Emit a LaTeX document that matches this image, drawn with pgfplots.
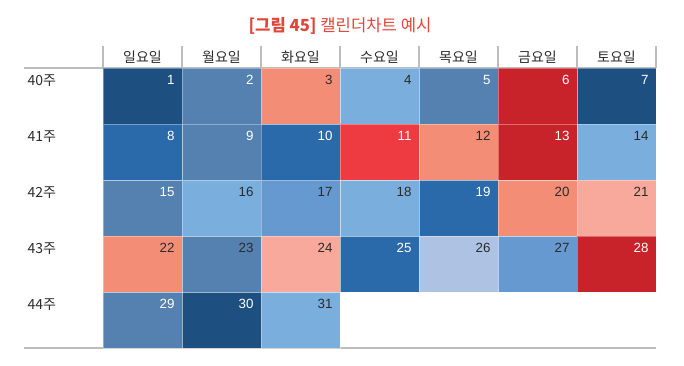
\documentclass[border=0pt]{standalone}
\usepackage{fontspec}
\usepackage{pgfplots}
\pgfplotsset{compat=1.18}
\setmainfont{Liberation Sans}
\newfontfamily\kr{Noto Sans CJK KR}
\definecolor{cA}{HTML}{1D4F80}
\definecolor{cB}{HTML}{5581B1}
\definecolor{cC}{HTML}{2A6AAA}
\definecolor{cD}{HTML}{7AAEDD}
\definecolor{cE}{HTML}{6699D0}
\definecolor{cF}{HTML}{AEC3E4}
\definecolor{cG}{HTML}{F38D76}
\definecolor{cH}{HTML}{F9A99B}
\definecolor{cI}{HTML}{C8222B}
\definecolor{cJ}{HTML}{EE3B42}
\definecolor{tW}{HTML}{FFFFFF}
\definecolor{tD}{HTML}{2B2B2B}
\definecolor{titlered}{HTML}{E2463A}
\definecolor{linegray}{HTML}{BDBDBD}

\pgfplotsset{
  cell/.style n args={2}{only marks, mark=none, point meta=explicit,
    nodes near coords={\parbox[c][31pt][t]{48pt}{\raggedleft\pgfmathprintnumber[assume math mode=true]{\pgfplotspointmeta}}},
    every node near coord/.style={anchor=center, inner sep=0pt,
      minimum width=59.25pt, minimum height=42pt,
      fill=#1, draw=white, draw opacity=0.35, line width=0.6pt,
      text=#2, font=\fontsize{10}{11}\selectfont},
  },
}

\begin{document}
\begin{tikzpicture}
\path[use as bounding box] (0,0) rectangle (513pt,-274.5pt);
\begin{axis}[
  at={(18pt,-261pt)}, anchor=south west,
  scale only axis, width=474pt, height=226.5pt,
  xmin=-1, xmax=7, ymin=-0.392857, ymax=5, y dir=reverse,
  hide axis, clip=false,
]
% dark blue
\addplot[cell={cA}{tW}] table[meta=d] {
x y d
0.5 0.5 1
6.5 0.5 7
1.5 4.5 30
};
% steel blue
\addplot[cell={cB}{tW}] table[meta=d] {
x y d
1.5 0.5 2
4.5 0.5 5
1.5 1.5 9
0.5 2.5 15
0.5 4.5 29
};
\addplot[cell={cB}{tD}] table[meta=d] {
x y d
1.5 3.5 23
};
% medium blue
\addplot[cell={cC}{tW}] table[meta=d] {
x y d
0.5 1.5 8
2.5 1.5 10
4.5 2.5 19
3.5 3.5 25
};
% light blue
\addplot[cell={cD}{tD}] table[meta=d] {
x y d
3.5 0.5 4
6.5 1.5 14
1.5 2.5 16
3.5 2.5 18
2.5 4.5 31
};
% mid-light blue
\addplot[cell={cE}{tD}] table[meta=d] {
x y d
2.5 2.5 17
5.5 3.5 27
};
% palest blue
\addplot[cell={cF}{tD}] table[meta=d] {
x y d
4.5 3.5 26
};
% salmon
\addplot[cell={cG}{tD}] table[meta=d] {
x y d
2.5 0.5 3
4.5 1.5 12
5.5 2.5 20
0.5 3.5 22
};
% light salmon
\addplot[cell={cH}{tD}] table[meta=d] {
x y d
6.5 2.5 21
2.5 3.5 24
};
% red
\addplot[cell={cI}{tW}] table[meta=d] {
x y d
5.5 0.5 6
5.5 1.5 13
6.5 3.5 28
};
% bright red
\addplot[cell={cJ}{tW}] table[meta=d] {
x y d
3.5 1.5 11
};

% header separators
\foreach \i in {0,...,7} {
  \edef\tmp{\noexpand\draw[linegray, line width=1.3pt] (axis cs:\i,-0.392857) -- (axis cs:\i,0);}
  \tmp
}
\draw[linegray, line width=1.1pt] (axis cs:-1,0) -- (axis cs:7,0);
\draw[linegray, line width=1.5pt] (axis cs:-1,5) -- (axis cs:7,5);

% header labels
\node[font=\kr\fontsize{10.5}{12}\selectfont, text=tD] at (axis cs:0.5,-0.19) {일요일};
\node[font=\kr\fontsize{10.5}{12}\selectfont, text=tD] at (axis cs:1.5,-0.19) {월요일};
\node[font=\kr\fontsize{10.5}{12}\selectfont, text=tD] at (axis cs:2.5,-0.19) {화요일};
\node[font=\kr\fontsize{10.5}{12}\selectfont, text=tD] at (axis cs:3.5,-0.19) {수요일};
\node[font=\kr\fontsize{10.5}{12}\selectfont, text=tD] at (axis cs:4.5,-0.19) {목요일};
\node[font=\kr\fontsize{10.5}{12}\selectfont, text=tD] at (axis cs:5.5,-0.19) {금요일};
\node[font=\kr\fontsize{10.5}{12}\selectfont, text=tD] at (axis cs:6.5,-0.19) {토요일};

% week labels
\node[font=\kr\fontsize{10.5}{12}\selectfont, text=tD, anchor=north west, inner sep=0pt, xshift=2.5pt, yshift=-4.5pt] at (axis cs:-1,0) {40주};
\node[font=\kr\fontsize{10.5}{12}\selectfont, text=tD, anchor=north west, inner sep=0pt, xshift=2.5pt, yshift=-4.5pt] at (axis cs:-1,1) {41주};
\node[font=\kr\fontsize{10.5}{12}\selectfont, text=tD, anchor=north west, inner sep=0pt, xshift=2.5pt, yshift=-4.5pt] at (axis cs:-1,2) {42주};
\node[font=\kr\fontsize{10.5}{12}\selectfont, text=tD, anchor=north west, inner sep=0pt, xshift=2.5pt, yshift=-4.5pt] at (axis cs:-1,3) {43주};
\node[font=\kr\fontsize{10.5}{12}\selectfont, text=tD, anchor=north west, inner sep=0pt, xshift=2.5pt, yshift=-4.5pt] at (axis cs:-1,4) {44주};

% title
\node[anchor=base, text=titlered, font=\kr\fontsize{12.5}{14}\selectfont, yshift=10.5pt] at (axis cs:3,-0.392857) {{\bfseries [그림 45]} 캘린더차트 예시};
\end{axis}
\end{tikzpicture}
\end{document}
